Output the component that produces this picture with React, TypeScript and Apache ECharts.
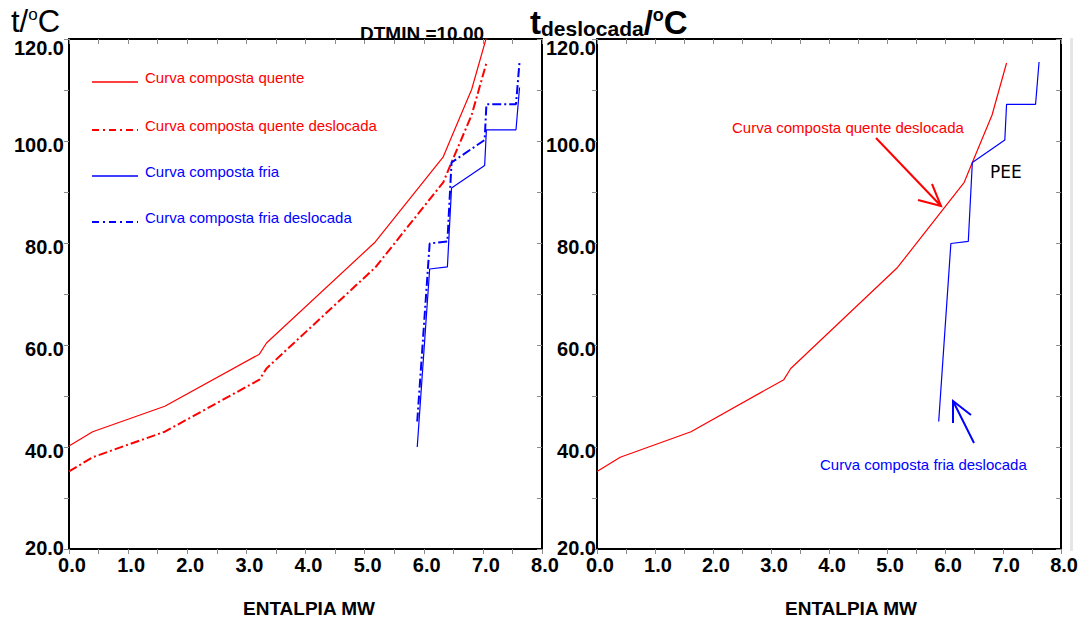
import React, { useEffect, useRef } from 'react';
import * as echarts from 'echarts';

// Data (MW, °C)
const hotX = [0, 0.4, 1.62, 3.22, 3.34, 5.18, 6.33, 6.47, 6.81, 7.06];
const hotT = [40.2, 43.0, 48.0, 58.2, 60.4, 80.2, 96.9, 100.8, 110.1, 120.3];
const hotShiftedT = [35.2, 38.0, 43.0, 53.2, 55.4, 75.2, 91.9, 95.8, 105.1, 115.3];
const coldX = [5.89, 6.1, 6.4, 6.47, 7.03, 7.06, 7.56, 7.62];
const coldT = [40.0, 74.9, 75.3, 90.8, 95.2, 102.2, 102.2, 110.5];
const coldShiftedT = [45.0, 79.9, 80.3, 95.8, 100.2, 107.2, 107.2, 115.5];

const legendNames = [
  'Curva composta quente',
  'Curva composta quente deslocada',
  'Curva composta fria',
  'Curva composta fria deslocada',
];
const xAxisTitle = 'ENTALPIA MW';
const dtminLabel = 'DTMIN =10.00';

const FONT = '"Liberation Sans", Arial, Helvetica, sans-serif';
const DV = '"DejaVu Sans", sans-serif';
const RED = '#ff0000';
const BLUE = '#0000ff';
const TICK = '#8a8a8a';
const DASHDOT = [9, 3, 2, 3];

const pair = (xs: number[], ys: number[]) => xs.map((x, i) => [x, ys[i]]);

function makeX(gridIndex: number, bottom: boolean) {
  return {
    type: 'value',
    gridIndex,
    position: bottom ? 'bottom' : 'top',
    min: 0,
    max: 8,
    interval: 1,
    axisLine: { show: true, onZero: false, lineStyle: { color: '#000', width: 2 } },
    axisTick: { show: true, inside: !bottom, length: 5, lineStyle: { color: TICK, width: 1 } },
    minorTick: { show: true, splitNumber: 2, length: 5, lineStyle: { color: TICK, width: 1 } },
    axisLabel: {
      show: bottom,
      formatter: (v: number) => v.toFixed(1),
      color: '#000',
      fontFamily: FONT,
      fontWeight: 'bold',
      fontSize: 20,
      margin: 6,
      padding: [0, 0, 0, 6],
    },
    splitLine: { show: false },
    minorSplitLine: { show: false },
  };
}

function makeY(gridIndex: number, left: boolean, margin: number) {
  const base = { fontFamily: FONT, fontWeight: 'bold', fontSize: 20, color: '#000' };
  return {
    type: 'value',
    gridIndex,
    position: left ? 'left' : 'right',
    min: 20,
    max: 120,
    interval: 20,
    axisLine: { show: true, onZero: false, lineStyle: { color: '#000', width: 2 } },
    axisTick: { show: true, inside: !left, length: 5, lineStyle: { color: TICK, width: 1 } },
    minorTick: { show: true, splitNumber: 2, length: 5, lineStyle: { color: TICK, width: 1 } },
    axisLabel: {
      show: left,
      margin,
      formatter: (v: number) =>
        v === 120 ? '{t|120.0}' : v === 20 ? '{b|20.0}' : '{n|' + v.toFixed(1) + '}',
      rich: {
        t: { ...base, padding: [18, 0, 0, 0] },
        n: { ...base, padding: [8, 0, 0, 0] },
        b: { ...base, padding: [0, 0, 2, 0] },
      },
    },
    splitLine: { show: false },
    minorSplitLine: { show: false },
  };
}

function legendRow(i: number, baseY: number, color: string, dashed: boolean) {
  return [
    {
      type: 'line',
      shape: { x1: 92, y1: baseY, x2: 138, y2: baseY },
      style: { stroke: color, lineWidth: dashed ? 2 : 1.5, lineDash: dashed ? [7, 4, 2, 4] : null },
      z: 100,
    },
    {
      type: 'text',
      x: 145,
      y: baseY - 5,
      style: {
        text: legendNames[i],
        fill: color,
        font: `15px ${FONT}`,
        align: 'left',
        verticalAlign: 'middle',
      },
      z: 100,
    },
  ];
}

export default function App() {
  const ref = useRef<HTMLDivElement>(null);

  useEffect(() => {
    if (!ref.current) return;
    const chart = echarts.init(ref.current, undefined, { renderer: 'svg' });
    const option: any = {
      animation: false,
      backgroundColor: '#fff',
      grid: [
        { left: 69, top: 39, width: 473, height: 510, containLabel: false },
        { left: 597, top: 39, width: 471, height: 510, containLabel: false },
      ],
      xAxis: [makeX(0, true), makeX(0, false), makeX(1, true), makeX(1, false)],
      yAxis: [makeY(0, true, 5), makeY(0, false, 0), makeY(1, true, 1), makeY(1, false, 0)],
      series: [
        {
          name: legendNames[0], type: 'line', xAxisIndex: 0, yAxisIndex: 0, symbol: 'none',
          data: pair(hotX, hotT), lineStyle: { color: RED, width: 1.2 }, itemStyle: { color: RED },
        },
        {
          name: legendNames[1], type: 'line', xAxisIndex: 0, yAxisIndex: 0, symbol: 'none',
          data: pair(hotX, hotShiftedT), lineStyle: { color: RED, width: 2, type: DASHDOT }, itemStyle: { color: RED },
        },
        {
          name: legendNames[2], type: 'line', xAxisIndex: 0, yAxisIndex: 0, symbol: 'none',
          data: pair(coldX, coldT), lineStyle: { color: BLUE, width: 1.2 }, itemStyle: { color: BLUE },
        },
        {
          name: legendNames[3], type: 'line', xAxisIndex: 0, yAxisIndex: 0, symbol: 'none',
          data: pair(coldX, coldShiftedT), lineStyle: { color: BLUE, width: 2, type: DASHDOT }, itemStyle: { color: BLUE },
        },
        {
          name: legendNames[1] + ' ', type: 'line', xAxisIndex: 2, yAxisIndex: 2, symbol: 'none',
          data: pair(hotX, hotShiftedT), lineStyle: { color: RED, width: 1.2 }, itemStyle: { color: RED },
        },
        {
          name: legendNames[3] + ' ', type: 'line', xAxisIndex: 2, yAxisIndex: 2, symbol: 'none',
          data: pair(coldX, coldShiftedT), lineStyle: { color: BLUE, width: 1.2 }, itemStyle: { color: BLUE },
        },
      ],
      graphic: [
        // right edge shadow
        { type: 'rect', shape: { x: 1070, y: 38, width: 3, height: 513 }, style: { fill: '#e6e6e6' }, z: 1 },
        // y-axis titles
        {
          type: 'text', x: 11, y: 21, z: 100,
          style: {
            text: '{a|t/}{s|o}{a|C}',
            verticalAlign: 'middle',
            rich: {
              a: { fontFamily: FONT, fontSize: 31, fill: '#000', verticalAlign: 'bottom' },
              s: { fontFamily: FONT, fontSize: 17, fill: '#000', verticalAlign: 'top' },
            },
          },
        },
        {
          type: 'text', x: 530, y: 22, z: 100,
          style: {
            text: '{a|t}{b|deslocada}{a|/}{s|o}{a|C}',
            verticalAlign: 'middle',
            rich: {
              a: { fontFamily: FONT, fontWeight: 'bold', fontSize: 33, fill: '#000', verticalAlign: 'bottom' },
              b: { fontFamily: FONT, fontWeight: 'bold', fontSize: 21, fill: '#000', verticalAlign: 'bottom' },
              s: { fontFamily: FONT, fontWeight: 'bold', fontSize: 18, fill: '#000', verticalAlign: 'top' },
            },
          },
        },
        {
          type: 'text', x: 360, y: 33, z: 100,
          style: { text: dtminLabel, font: `bold 19px ${FONT}`, fill: '#000', align: 'left', verticalAlign: 'middle' },
        },
        // x-axis titles
        {
          type: 'text', x: 309, y: 608, z: 100,
          style: { text: xAxisTitle, font: `bold 19px ${FONT}`, fill: '#000', align: 'center', verticalAlign: 'middle' },
        },
        {
          type: 'text', x: 851, y: 608, z: 100,
          style: { text: xAxisTitle, font: `bold 19px ${FONT}`, fill: '#000', align: 'center', verticalAlign: 'middle' },
        },
        // legend
        ...legendRow(0, 82, RED, false),
        ...legendRow(1, 130, RED, true),
        ...legendRow(2, 176, BLUE, false),
        ...legendRow(3, 222, BLUE, true),
        // annotations on right chart
        {
          type: 'text', x: 732, y: 127, z: 100,
          style: { text: legendNames[1], font: `15px ${FONT}`, fill: RED, align: 'left', verticalAlign: 'middle' },
        },
        {
          type: 'polyline', z: 100,
          shape: { points: [[876, 138], [941, 206]] },
          style: { stroke: RED, lineWidth: 2, fill: null },
        },
        {
          type: 'polyline', z: 100,
          shape: { points: [[918, 200], [941, 206], [932, 184]] },
          style: { stroke: RED, lineWidth: 2, fill: null },
        },
        {
          type: 'text', x: 990, y: 172, z: 100,
          style: { text: 'PEE', font: `17px ${DV}`, fill: '#000', align: 'left', verticalAlign: 'middle' },
        },
        {
          type: 'polyline', z: 100,
          shape: { points: [[974, 443], [953, 401]] },
          style: { stroke: BLUE, lineWidth: 2, fill: null },
        },
        {
          type: 'polyline', z: 100,
          shape: { points: [[971, 415], [953, 401], [953, 423]] },
          style: { stroke: BLUE, lineWidth: 2, fill: null },
        },
        {
          type: 'text', x: 820, y: 464, z: 100,
          style: { text: legendNames[3], font: `15px ${FONT}`, fill: BLUE, align: 'left', verticalAlign: 'middle' },
        },
      ],
    };
    chart.setOption(option);
    return () => chart.dispose();
  }, []);

  return (
    <div
      ref={ref}
      style={{ position: 'fixed', left: 0, top: 0, width: 1081, height: 624, background: '#fff' }}
    />
  );
}
